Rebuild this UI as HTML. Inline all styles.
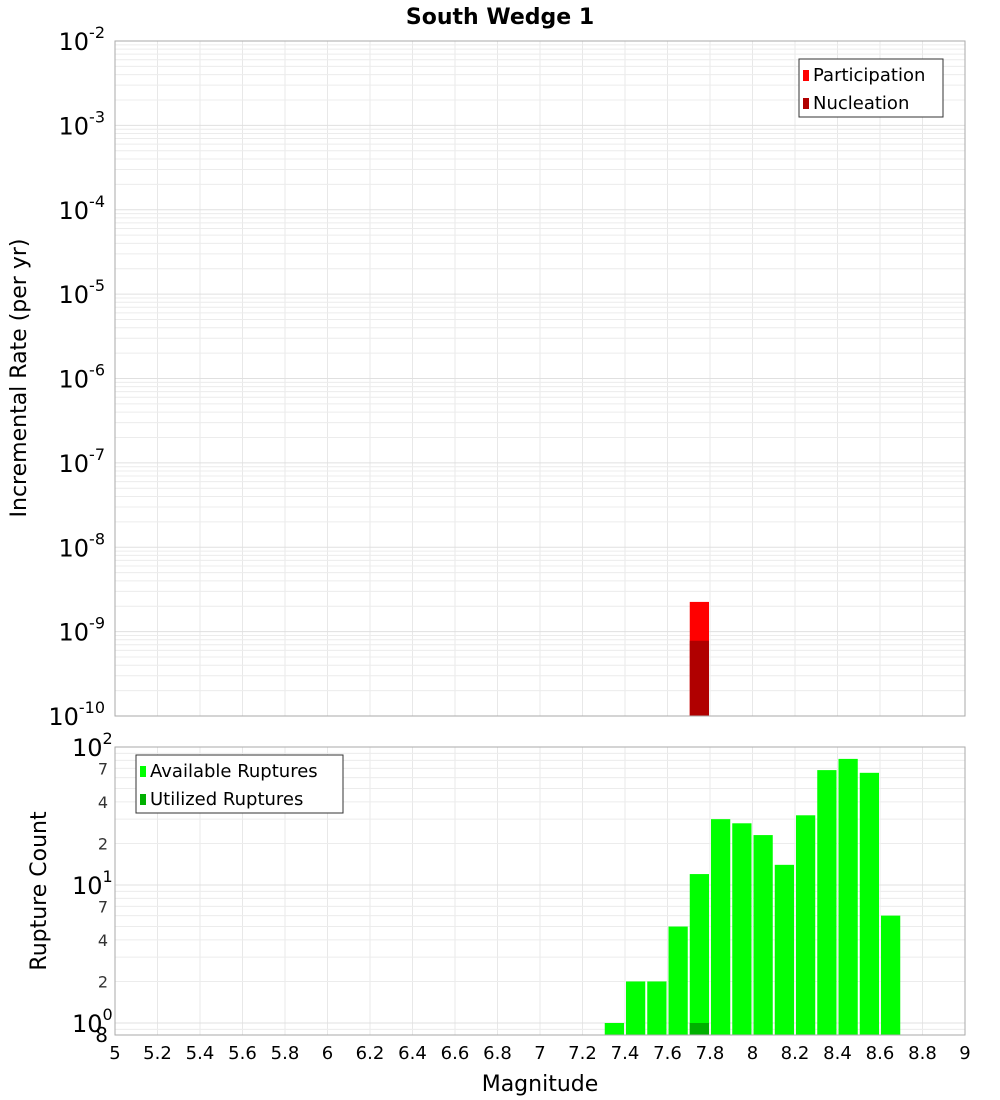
<!DOCTYPE html>
<html><head><meta charset="utf-8">
<style>
body{margin:0;background:#fff;}
svg{display:block;font-family:"DejaVu Sans","Liberation Sans",sans-serif;}
</style></head>
<body>
<svg id="c" width="1000" height="1100" viewBox="0 0 1000 1100"></svg>
<script>
// Top chart data
const topBins = [7.7];
const participation = [2.25e-9];
const nucleation = [7.8e-10];
// Bottom chart data
const binStarts = [7.3,7.4,7.5,7.6,7.7,7.8,7.9,8.0,8.1,8.2,8.3,8.4,8.5,8.6];
const available = [1,2,2,5,12,30,28,23,14,32,68,82,65,6];
const utilizedBins = [7.7];
const utilized = [1];
const xTicks = ["5","5.2","5.4","5.6","5.8","6","6.2","6.4","6.6","6.8","7","7.2","7.4","7.6","7.8","8","8.2","8.4","8.6","8.8","9"];
const topExps = [-2,-3,-4,-5,-6,-7,-8,-9,-10];
const botExps = [2,1,0];
const botMinorLabels = [7,4,2];

const NS="http://www.w3.org/2000/svg";
const svg=document.getElementById('c');
function el(tag,attrs,parent){const e=document.createElementNS(NS,tag);for(const k in attrs)e.setAttribute(k,attrs[k]);(parent||svg).appendChild(e);return e;}
const X0=115,X1=965;
const x=m=>X0+(m-5)/4*(X1-X0);
const T0=41,T1=716;
const yTop=v=>T0+(-2-Math.log10(v))/8*(T1-T0);
const B0=747,BD=138,B1=1035;
const yBot=v=>B0+(2-Math.log10(v))*BD;

let t=el('text',{x:500,y:24,'text-anchor':'middle','font-size':22,'font-weight':'bold'});
t.textContent='South Wedge 1';



function grid(y0,y1,yf,lo,hi,name){
  const g=el('g',{});
  
  
  for(let i=0;i<xTicks.length;i++){const xx=x(+xTicks[i]);el('line',{x1:xx,x2:xx,y1:y0,y2:y1,stroke:'#e8e8e8'},g);}
  for(let e=lo;e<hi;e++)for(let k=1;k<10;k++){const yy=yf(k*Math.pow(10,e));if(yy>=y0&&yy<=y1)el('line',{x1:X0,x2:X1,y1:yy,y2:yy,stroke:k==1?'#e0e0e0':'#ececec'},g);}
}
grid(T0,T1,yTop,-10,-2,'top-grid');
grid(B0,B1,yBot,-1,2,'bottom-grid');

// top bars
for(let i=0;i<topBins.length;i++){
  let r=el('rect',{x:x(topBins[i])+1,y:yTop(participation[i]),width:x(topBins[i]+0.1)-x(topBins[i])-2,height:T1-yTop(participation[i]),fill:'#ff0000'});
  
  
  r=el('rect',{x:x(topBins[i])+1,y:yTop(nucleation[i]),width:x(topBins[i]+0.1)-x(topBins[i])-2,height:T1-yTop(nucleation[i]),fill:'#b00000'});
  
  
}
// bottom bars
for(let i=0;i<binStarts.length;i++){
  const r=el('rect',{x:x(binStarts[i])+1,y:yBot(available[i]),width:x(binStarts[i]+0.1)-x(binStarts[i])-2,height:B1-yBot(available[i]),fill:'#00ff00'});
  
  
}
for(let i=0;i<utilizedBins.length;i++){
  const r=el('rect',{x:x(utilizedBins[i])+1,y:yBot(utilized[i]),width:x(utilizedBins[i]+0.1)-x(utilizedBins[i])-2,height:B1-yBot(utilized[i]),fill:'#00b000'});
  
  
}
// borders
let b=el('rect',{x:X0,y:T0,width:X1-X0,height:T1-T0,fill:'none',stroke:'#aaa'});


b=el('rect',{x:X0,y:B0,width:X1-X0,height:B1-B0,fill:'none',stroke:'#aaa'});



// top y labels
for(const e of topExps){
  const yy=yTop(Math.pow(10,e));
  const tx=el('text',{x:105,y:yy+9,'text-anchor':'end','font-size':24});
  tx.innerHTML='10<tspan dy="-12" font-size="16">'+e+'</tspan>';
  
  
}
// bottom y labels
for(const e of botExps){
  const yy=yBot(Math.pow(10,e));
  const tx=el('text',{x:72,y:yy+9,'font-size':24});
  tx.innerHTML='10<tspan dy="-12" font-size="16">'+e+'</tspan>';
  
  
}
for(const e of [1,0])for(const k of botMinorLabels){
  const tx=el('text',{x:108,y:yBot(k*Math.pow(10,e))+6,'text-anchor':'end','font-size':16,fill:'#333'});
  tx.textContent=k;
  
  
}
let t8=el('text',{x:108,y:1042,'text-anchor':'end','font-size':20});
t8.textContent='8';


// x labels
for(const s of xTicks){
  const tx=el('text',{x:x(+s),y:1059,'text-anchor':'middle','font-size':18});
  tx.textContent=s;
  
  
}
t=el('text',{x:540,y:1091,'text-anchor':'middle','font-size':22});
t.textContent='Magnitude';


t=el('text',{x:0,y:0,'text-anchor':'middle','font-size':22,transform:'translate(26,378) rotate(-90)'});
t.textContent='Incremental Rate (per yr)';


t=el('text',{x:0,y:0,'text-anchor':'middle','font-size':22,transform:'translate(46,891) rotate(-90)'});
t.textContent='Rupture Count';



// legends
function legend(lx,ly,w,items,name){
  const g=el('g',{});
  
  
  el('rect',{x:lx,y:ly,width:w,height:58,fill:'#fff',stroke:'#333'},g);
  items.forEach((it,i)=>{
    el('rect',{x:lx+4,y:ly+11+i*28,width:6,height:11,fill:it[1]},g);
    const tx=el('text',{x:lx+14,y:ly+22+i*28,'font-size':18},g);
    tx.textContent=it[0];
  });
}
legend(799,59,144,[['Participation','#ff0000'],['Nucleation','#b00000']],'top-legend');
legend(136,755,207,[['Available Ruptures','#00ff00'],['Utilized Ruptures','#00b000']],'bottom-legend');
</script>
</body></html>
